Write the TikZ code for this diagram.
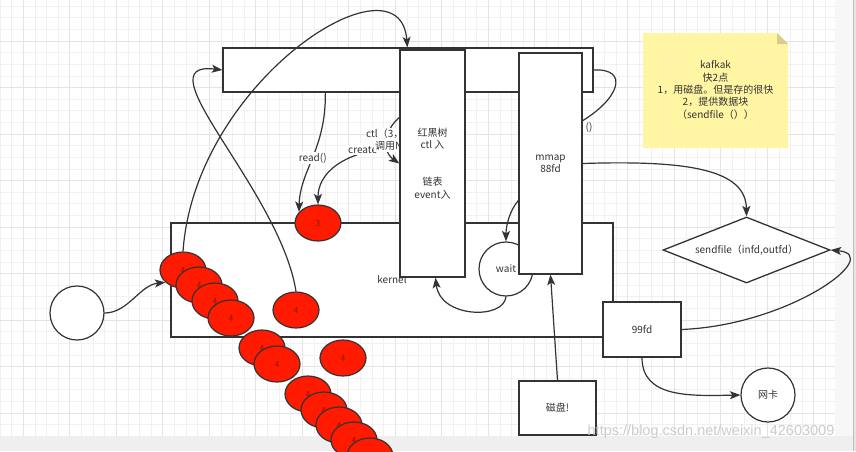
\documentclass[tikz,border=0pt]{standalone}
\usepackage{fontspec}
\setmainfont{Noto Sans CJK SC}
\newfontfamily\wmfont{Liberation Sans}
\usetikzlibrary{shapes.geometric,arrows.meta,calc}
\pgfdeclarelayer{front}
\pgfsetlayers{main,front}
\definecolor{ln}{HTML}{333333}
\definecolor{rd}{HTML}{FF1A00}
\definecolor{notey}{HTML}{FFF5A3}
\definecolor{notef}{HTML}{D6CF8C}
\definecolor{gminor}{HTML}{F1F1F1}
\definecolor{gmajor}{HTML}{E4E4E4}
\definecolor{txt}{HTML}{333333}
\definecolor{rtxt}{HTML}{8A1A10}
\definecolor{stripc}{HTML}{EFEFEF}
\definecolor{sidec}{HTML}{F7F7F7}
\tikzset{
  box/.style={draw=ln, line width=1.3pt, fill=white, inner sep=0pt},
  redell/.style={ellipse, draw=ln, line width=1.2pt, fill=rd, minimum width=46pt,
    minimum height=36pt, inner sep=0pt, text=rtxt, font=\fontsize{8.5}{10}\selectfont},
  rcirc/.style={circle, draw=ln, line width=1.2pt, fill=white, minimum size=54pt, inner sep=0pt},
  arr/.style={draw=ln, line width=1.2pt, -{Stealth[length=10.5pt,width=8pt,inset=2.5pt]}},
  lbl/.style={fill=white, inner sep=1pt},
}
\begin{document}
\begin{tikzpicture}[x=1pt,y=-1pt,font=\fontsize{10}{12.3}\selectfont,text=txt]
\useasboundingbox (0,0) rectangle (856,451);
\fill[white] (0,0) rectangle (856,451);
% grid
\foreach \k in {0,...,71} \draw[gminor,line width=0.6pt] ({\k*11.625},0) -- ({\k*11.625},436);
\foreach \k in {0,...,36} \draw[gminor,line width=0.6pt] (0,{6.1+\k*11.625}) -- (835,{6.1+\k*11.625});
\foreach \k in {0,...,17} \draw[gmajor,line width=0.8pt] ({23.25+\k*46.5},0) -- ({23.25+\k*46.5},436);
\foreach \k in {0,...,8} \draw[gmajor,line width=0.8pt] (0,{41+\k*46.5}) -- (835,{41+\k*46.5});
\fill[sidec] (835,0) rectangle (853,451);
\fill[stripc] (0,436) rectangle (853,451);
\fill[gray!20] (853,0) rectangle (856,451);
\draw[gray!50,line width=0.8pt] (853,0) -- (853,451);

% sticky note
\fill[notey] (643,33) -- (777,33) -- (788,44) -- (788,148) -- (643,148) -- cycle;
\fill[notef] (777,33) -- (788,44) -- (777,44) -- cycle;
\node[align=center] (note) at (715.5,90) {kafkak\\快2点\\1，用磁盘。但是存的很快\\2，提供数据块\\（sendfile（））};

% boxes
\node[box, minimum width=442pt, minimum height=114pt] (kern) at (392,280) {kernel};
\node[box, minimum width=370pt, minimum height=44pt] (top) at (408,70) {};
\node[box, minimum width=78pt, minimum height=55pt] (fd) at (642,329.5) {99fd};
\node[box, minimum width=77pt, minimum height=54pt] (disk) at (557.5,408) {磁盘!};
\node[diamond, draw=ln, line width=1.3pt, fill=white, minimum width=167pt, minimum height=66pt,
  inner sep=0pt, label=center:{sendfile（infd,outfd）}] (sf) at (746.5,250) {};
\node[rcirc] (circ) at (77,313) {};
\node[rcirc] (wait) at (506,269) {wait};
\node[rcirc] (net) at (768,395) {网卡};

% red ellipses
\node[redell] (ethree) at (318,223) {3};
\node[redell] (es1) at (296,310) {4};
\node[redell] (es2) at (343,358) {4};
\foreach \n/\px/\py in {1/183/270, 2/199/285, 3/215/301, 4/231/318, 5/262/348, 6/277/364,
  7/308/394, 8/324/410, 9/339/425, 10/354/440}
  \node[redell] (c\n) at (\px,\py) {4};
\node[redell] (c11) at (370,456) {};

% front boxes
\begin{pgfonlayer}{front}
\node[box, minimum width=65pt, minimum height=227pt, align=center] (rb) at (432.5,163.5)
  {红黑树\\ctl 入\\[24.6pt]链表\\event入};
\node[box, minimum width=63pt, minimum height=221pt, align=center] (mm) at (550.5,163.5)
  {mmap\\88fd};
\end{pgfonlayer}

% connectors
\draw[arr] (c1.north) .. controls (195,80) and (400,-50) .. ($(top.north west)+(185,0)$);
\draw[arr] (es1.north) .. controls (280,190) and (140,60) .. (top.west);
\draw[arr] ($(top.south west)+(103,0)$) .. controls (326,150) and (300,170) .. (ethree.150)
  node[pos=0.5, lbl] {read()};
\draw[arr] ($(rb.west)+(4,-17)$) .. controls (340,150) and (318,175) .. (ethree.north);
\draw[arr] ($(rb.north west)+(10,62)$) .. controls (385,122) and (380,150) .. (rb.west);
\node[lbl, anchor=west] (lcrea) at (347,150) {create};
\node[lbl, anchor=west] (lcall) at (374,146) {调用N};
\node[lbl, anchor=west] (lctl) at (365,134) {ctl（3，};
\draw[arr] (top.east) .. controls (630,68) and (620,100) .. ($(mm.east)+(-12,-36)$);
\node[lbl] (lpar) at (589,127) {()};
\draw[arr] (circ.east) .. controls (128,313) and (140,285) .. (c1.215);
\draw[arr] ($(mm.west)+(0,37)$) .. controls (510,210) and (506,225) .. (wait.north);
\draw[arr] (wait.south) .. controls (504,320) and (440,318) .. ($(rb.south)+(3,0)$);
\draw[arr] (disk.north) -- (mm.south);
\draw[arr] (mm.east) .. controls (690,160) and (746,170) .. (sf.north);
\draw[arr] (fd.east) .. controls (790,325) and (885,255) .. (sf.east);
\draw[arr] (fd.south) .. controls (642,398) and (690,396) .. (net.west);

% watermark
\node[text=gray!40, font=\wmfont\fontsize{14.5}{16}\selectfont] (wm) at (711,432)
  {https://blog.csdn.net/weixin\_42603009};
\end{tikzpicture}
\end{document}
